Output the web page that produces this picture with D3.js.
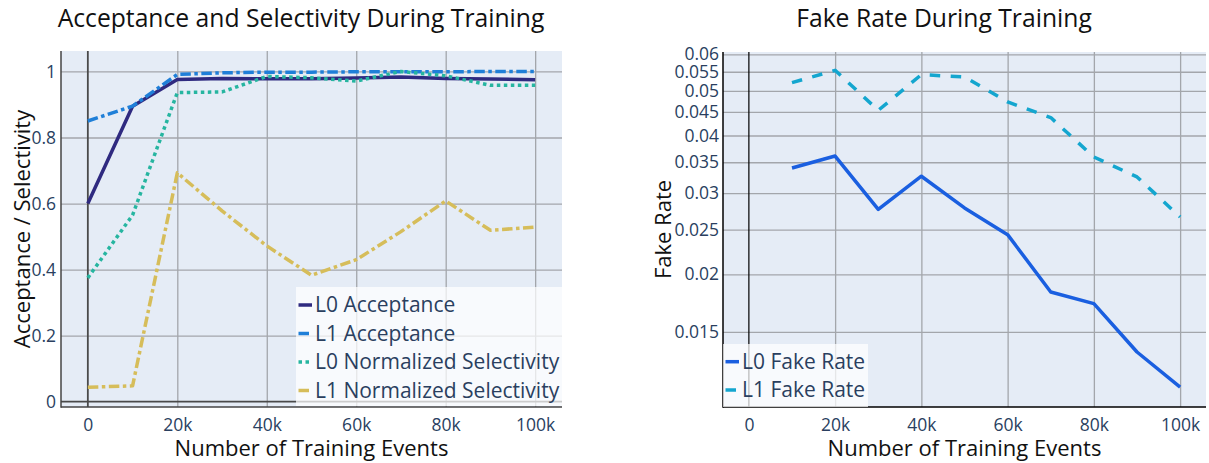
<!DOCTYPE html>
<html>
<head>
<meta charset="utf-8">
<script src="https://cdn.jsdelivr.net/npm/d3@7"></script>
<style>
body { margin: 0; background: #fff; }
text { font-family: "Open Sans", sans-serif; }
</style>
</head>
<body>
<svg id="chart" width="1209" height="463"></svg>
<script>
// training steps (number of training events)
var steps = [0, 10000, 20000, 30000, 40000, 50000, 60000, 70000, 80000, 90000, 100000];
var xTicks = [0, 20000, 40000, 60000, 80000, 100000];

// left chart series
var l0Acceptance = [0.600, 0.895, 0.976, 0.979, 0.978, 0.978, 0.980, 0.983, 0.979, 0.977, 0.975];
var l1Acceptance = [0.850, 0.895, 0.991, 0.996, 0.998, 0.998, 0.999, 0.999, 0.999, 1.000, 1.000];
var l0Selectivity = [0.375, 0.565, 0.936, 0.938, 0.985, 0.981, 0.971, 1.000, 0.987, 0.958, 0.958];
var l1Selectivity = [0.044, 0.048, 0.693, 0.578, 0.472, 0.383, 0.430, 0.515, 0.608, 0.519, 0.529];
var leftYTicks = [0, 0.2, 0.4, 0.6, 0.8, 1];

// right chart series
var fakeSteps = [10000, 20000, 30000, 40000, 50000, 60000, 70000, 80000, 90000, 100000];
var l0FakeRate = [0.0340, 0.0361, 0.02767, 0.03264, 0.02786, 0.02438, 0.01831, 0.01728, 0.01357, 0.01139];
var l1FakeRate = [0.05209, 0.05539, 0.04536, 0.05421, 0.05358, 0.0473, 0.04375, 0.03593, 0.03253, 0.02663];
var rightYTicks = [0.015, 0.02, 0.025, 0.03, 0.035, 0.04, 0.045, 0.05, 0.055, 0.06];

var svg = d3.select("#chart");
var tickColor = "#2a3f5f", gridColor = "#a3a6ab", bg = "#e5ecf6";
var fmtX = function(d) { return d === 0 ? "0" : (d / 1000) + "k"; };

//Draw one panel: background, grid, axes, titles
function panel(p) {
    var g = svg.append("g");
    var x = p.x, y = p.y;
    var x0 = x.range()[0], x1 = x.range()[1], y0 = y.range()[0], y1 = y.range()[1];

    g.append("rect")
        .attr("x", x0).attr("y", y1)
        .attr("width", x1 - x0).attr("height", y0 - y1)
        .attr("fill", bg);

    // vertical grid
    g.append("g")
        .attr("transform", "translate(0," + y0 + ")")
        .call(d3.axisBottom(x).tickValues(xTicks.filter(function(d) { return d !== 0; })).tickSize(-(y0 - y1)).tickFormat(""))
        .call(function(a) { a.select(".domain").remove(); a.selectAll("line").attr("stroke", gridColor).attr("stroke-width", 1.3); });

    // horizontal grid
    g.append("g")
        .attr("transform", "translate(" + x0 + ",0)")
        .call(d3.axisLeft(y).tickValues(p.yTicks.filter(function(d) { return d !== 0; })).tickSize(-(x1 - x0)).tickFormat(""))
        .call(function(a) { a.select(".domain").remove(); a.selectAll("line").attr("stroke", gridColor).attr("stroke-width", 1.3); });

    // zero lines
    g.append("line")
        .attr("x1", x(0)).attr("x2", x(0)).attr("y1", y1).attr("y2", y0)
        .attr("stroke", p.zeroColor).attr("stroke-width", p.zeroWidth);
    if (p.yZero) {
        g.append("line")
            .attr("x1", x0).attr("x2", x1).attr("y1", y(0)).attr("y2", y(0))
            .attr("stroke", p.zeroColor).attr("stroke-width", p.zeroWidth);
    }

    // tick labels
    g.append("g")
        .attr("transform", "translate(0," + y0 + ")")
        .call(d3.axisBottom(x).tickValues(xTicks).tickSize(0).tickPadding(11.5).tickFormat(fmtX))
        .call(function(a) { a.select(".domain").remove(); a.selectAll("text").attr("fill", tickColor).style("font-size", "17.5px").style("font-family", "Open Sans"); });

    g.append("g")
        .attr("transform", "translate(" + x0 + ",0)")
        .call(d3.axisLeft(y).tickValues(p.yTicks).tickSize(0).tickPadding(p.yPad).tickFormat(d3.format("~g")))
        .call(function(a) { a.select(".domain").remove(); a.selectAll("text").attr("fill", tickColor).style("font-size", "17.5px").style("font-family", "Open Sans"); });

    p.g = g;
    return p;
}

function axisLines(p) {
    var x0 = p.x.range()[0], x1 = p.x.range()[1], y0 = p.y.range()[0], y1 = p.y.range()[1];
    p.g.append("line").attr("x1", x0).attr("x2", x0).attr("y1", y1).attr("y2", y0 + 0.75)
        .attr("stroke", p.axisColor).attr("stroke-width", 1.5);
    p.g.append("line").attr("x1", x0).attr("x2", x1).attr("y1", y0).attr("y2", y0)
        .attr("stroke", p.axisColor).attr("stroke-width", 1.5);

    svg.append("text")
        .attr("x", p.titleX).attr("y", 27)
        .attr("text-anchor", "middle")
        .style("font-size", "24.7px").attr("fill", "#111")
        .text(p.title);
    svg.append("text")
        .attr("x", (x0 + x1) / 2).attr("y", 456)
        .attr("text-anchor", "middle")
        .style("font-size", "22px").attr("fill", "#111")
        .text("Number of Training Events");
    svg.append("text")
        .attr("transform", "translate(" + p.yTitleX + "," + (y0 + y1) / 2 + ") rotate(-90)")
        .attr("text-anchor", "middle")
        .attr("dy", "0.35em")
        .style("font-size", "22px").attr("fill", "#111")
        .text(p.yTitle);
}

function drawSeries(p, xs, series) {
    var line = d3.line()
        .x(function(d) { return p.x(d[0]); })
        .y(function(d) { return p.y(d[1]); });
    series.forEach(function(s) {
        p.g.append("path")
            .datum(xs.map(function(v, i) { return [v, s.values[i]]; }))
            .attr("d", line)
            .attr("fill", "none")
            .attr("stroke", s.color)
            .attr("stroke-width", 3.5)
            .attr("stroke-linejoin", "round")
            .attr("stroke-dasharray", s.dash);
    });
}

function legend(box, rowYs, series) {
    var g = svg.append("g");
    g.append("rect")
        .attr("x", box.x).attr("y", box.y).attr("width", box.w).attr("height", box.h)
        .attr("fill", "rgba(255,255,255,0.72)");
    series.forEach(function(s, i) {
        g.append("line")
            .attr("x1", box.x + 2.5).attr("x2", box.x + 16).attr("y1", rowYs[i]).attr("y2", rowYs[i])
            .attr("stroke", s.color).attr("stroke-width", 3.5)
            .attr("stroke-dasharray", s.dash);
        g.append("text")
            .attr("x", box.x + 19).attr("y", rowYs[i])
            .attr("dy", "0.35em")
            .style("font-size", "21px").attr("fill", tickColor)
            .text(s.name);
    });
}

// ---- left chart ----
var left = panel({
    x: d3.scaleLinear().domain([-6000, 106000]).range([61, 562]),
    y: d3.scaleLinear().domain([-0.016, 1.062]).range([407, 51]),
    yTicks: leftYTicks, yPad: 5, yZero: true,
    zeroColor: "#4a4a4a", zeroWidth: 1.8, axisColor: "#444",
    title: "Acceptance and Selectivity During Training", titleX: 301,
    yTitle: "Acceptance / Selectivity", yTitleX: 22
});
var leftSeries = [
    {name: "L0 Acceptance", values: l0Acceptance, color: "#2f2a80", dash: null},
    {name: "L1 Acceptance", values: l1Acceptance, color: "#1f7fd8", dash: "10.5,3.5,3.5,3.5"},
    {name: "L0 Normalized Selectivity", values: l0Selectivity, color: "#26b5a0", dash: "3.5,3.5"},
    {name: "L1 Normalized Selectivity", values: l1Selectivity, color: "#d6bd5a", dash: "10.5,3.5,3.5,3.5"}
];
drawSeries(left, steps, leftSeries);
axisLines(left);
legend({x: 296, y: 287, w: 266, h: 119}, [305, 333.5, 362, 390.5], leftSeries);

// ---- right chart ----
var right = panel({
    x: d3.scaleLinear().domain([-6000, 106000]).range([723, 1206]),
    y: d3.scaleLog().domain([0.01031, 0.0607]).range([407, 52]),
    yTicks: rightYTicks, yPad: 4, yZero: false,
    zeroColor: "#000", zeroWidth: 1.2, axisColor: "#000",
    title: "Fake Rate During Training", titleX: 944,
    yTitle: "Fake Rate", yTitleX: 663
});
var rightSeries = [
    {name: "L0 Fake Rate", values: l0FakeRate, color: "#1a5fe0", dash: null},
    {name: "L1 Fake Rate", values: l1FakeRate, color: "#14a6cf", dash: "10.5,10.5"}
];
drawSeries(right, fakeSteps, rightSeries);
axisLines(right);
legend({x: 723, y: 344, w: 145, h: 63}, [361.7, 390], rightSeries);
</script>
</body>
</html>
